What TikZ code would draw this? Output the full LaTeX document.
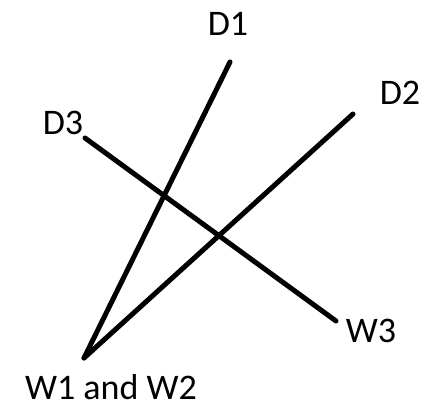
\documentclass[tikz,border=0pt]{standalone}
\usepackage{fontspec}
\setmainfont{Carlito}
\usetikzlibrary{positioning}

\begin{document}
\begin{tikzpicture}[
  x=1pt, y=1pt,
  lbl/.style={inner sep=0pt,anchor=base,font=\fontsize{36}{40}\selectfont,text=black},
  wire/.style={line width=5pt,line cap=round,black}
]
\useasboundingbox (0,0) rectangle (431,409);
% end points of the lines
\coordinate (w12) at (84,51);
\coordinate (d1) at (230,347);
\coordinate (d2) at (353,295);
\coordinate (d3) at (85,271);
\coordinate (w3) at (336,88);
% labels
\node[lbl] (tD1) at (228,373) {D1};
\node[lbl] (tD2) at (400,304) {D2};
\node[lbl] (tD3) at (63,274) {D3};
\node[lbl] (tW3) at (371,66) {W3};
\node[lbl] (tW12) at (111,9) {W1 and W2};
% lines
\draw[wire] (w12) -- (d1);
\draw[wire] (w12) -- (d2);
\draw[wire] (d3) -- (w3);
\end{tikzpicture}
\end{document}
